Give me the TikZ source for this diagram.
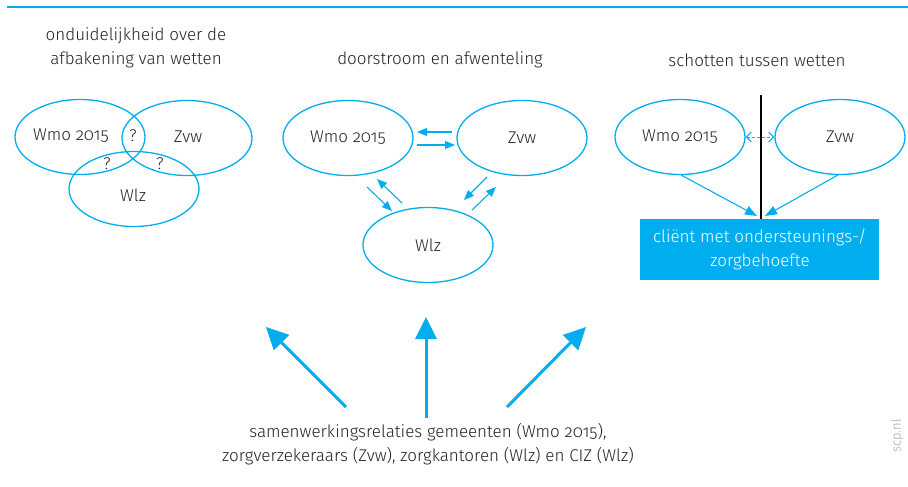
\documentclass[tikz,border=0pt]{standalone}
\usepackage{fontspec}
\setmainfont{Fira Sans}[UprightFont=* Light, Numbers=OldStyle]
\usetikzlibrary{shapes.geometric,arrows.meta}
\definecolor{scpblue}{RGB}{0,174,239}
\definecolor{txt}{RGB}{35,35,35}
\tikzset{
  x=1pt,y=-1pt,
  ell/.style={draw=scpblue,line width=1.3pt,ellipse,minimum width=130pt,minimum height=75pt,inner sep=0pt,text=txt,font=\fontsize{17}{20}\selectfont},
  lbl/.style={text=txt,inner sep=0pt,font=\fontsize{17}{24}\selectfont,align=center},
  small/.style={draw=scpblue,line width=1.1pt,-{Triangle[length=10pt,width=8pt]}},
  mid/.style={draw=scpblue,line width=1.1pt,-{Triangle[length=12pt,width=9pt]}},
  big/.style={draw=scpblue,line width=3pt,-{Triangle[length=22pt,width=21pt]}},
  dsh/.style={draw=scpblue,line width=1pt,dashed,dash pattern=on 3pt off 2pt,{Straight Barb[length=5pt,width=10pt]}-{Straight Barb[length=5pt,width=10pt]}},
}
\begin{document}
\begin{tikzpicture}
\useasboundingbox (0,0) rectangle (908,487);
\fill[white] (0,0) rectangle (908,487);
% top rule
\coordinate (tl) at (7,7);
\coordinate (tr) at (908,7);
\draw[scpblue,line width=1.2pt] (tl) -- (tr);

% titles
\node[lbl] (t1) at (136,48) {onduidelijkheid over de\\afbakening van wetten};
\node[lbl] (t2) at (440,60) {doorstroom en afwenteling};
\node[lbl] (t3) at (757,60) {schotten tussen wetten};

% panel 1
\node[ell] (a1) at (80,137) {};
\node[ell] (b1) at (187,138) {};
\node[ell] (c1) at (134,189) {};
\node[lbl] (a1l) at (71,136) {Wmo 2015};
\node[lbl] (b1l) at (188,137) {Zvw};
\node[lbl] (c1l) at (133,195) {Wlz};
\node[lbl] (q1) at (133,136) {?};
\node[lbl] (q2) at (107,164) {?};
\node[lbl] (q3) at (160,164) {?};

% panel 2
\node[ell] (a2) at (348,138) {Wmo 2015};
\node[ell] (b2) at (522,138) {Zvw};
\node[ell] (c2) at (428,245) {Wlz};
\coordinate (p1s) at (452,132); \coordinate (p1e) at (417,132);
\coordinate (p2s) at (417,145); \coordinate (p2e) at (455,145);
\coordinate (p3s) at (367,187); \coordinate (p3e) at (392,211);
\coordinate (p4s) at (402,203); \coordinate (p4e) at (377,179);
\coordinate (p5s) at (487,177); \coordinate (p5e) at (464,200);
\coordinate (p6s) at (472,210); \coordinate (p6e) at (496,187);
\draw[small] (p1s) -- (p1e);
\draw[small] (p2s) -- (p2e);
\draw[small] (p3s) -- (p3e);
\draw[small] (p4s) -- (p4e);
\draw[small] (p5s) -- (p5e);
\draw[small] (p6s) -- (p6e);

% panel 3
\node[ell] (a3) at (680,137) {Wmo 2015};
\node[ell] (b3) at (840,137) {Zvw};
\node[fill=scpblue,minimum width=239pt,minimum height=61pt,inner sep=0pt,anchor=north west] (box) at (640,219) {};
\node[lbl,text=white] (boxl) at (760,249) {cliënt met ondersteunings-/\\zorgbehoefte};
\coordinate (vt) at (761,95);
\draw[black,line width=1.1pt] (vt) -- (box.north -| vt);
\draw[dsh] (a3.east) -- (b3.west);
\coordinate (w3) at (681,175); \coordinate (w3e) at (757,216);
\coordinate (z3) at (838,175); \coordinate (z3e) at (765,216);
\draw[mid] (w3) -- (w3e);
\draw[mid] (z3) -- (z3e);

% bottom
\node[lbl] (bot) at (428,444) {samenwerkingsrelaties gemeenten (Wmo 2015),\\zorgverzekeraars (Zvw), zorgkantoren (Wlz) en CIZ (Wlz)};
\coordinate (l1s) at (346,407); \coordinate (l1e) at (266,327);
\coordinate (l2s) at (426,418); \coordinate (l2e) at (426,317);
\coordinate (l3s) at (507,407); \coordinate (l3e) at (586,327);
\draw[big] (l1s) -- (l1e);
\draw[big] (l2s) -- (l2e);
\draw[big] (l3s) -- (l3e);

\node[text=gray!70,rotate=90,inner sep=0pt,font=\fontsize{13}{14}\selectfont] (scp) at (897,436) {scp.nl};
\end{tikzpicture}
\end{document}
